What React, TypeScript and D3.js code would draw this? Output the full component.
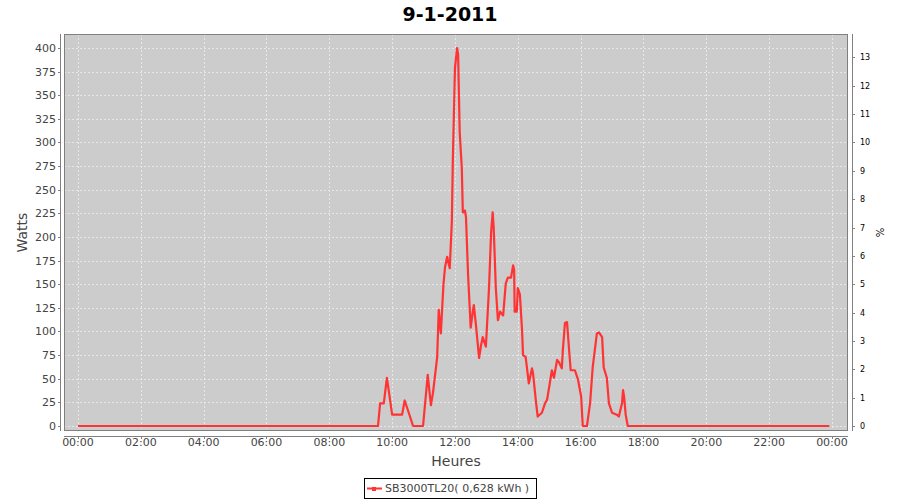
import React from "react";
import * as d3 from "d3";

const chartTitle = "9-1-2011";
const seriesName = "SB3000TL20( 0,628 kWh )";
const yLabelLeft = "Watts";
const yLabelRight = "%";
const xLabel = "Heures";
const nominalPower = 3000;

const times = ["00:00","09:33","09:37","09:44","09:50","10:00","10:19","10:24","10:40","10:59","11:08","11:14","11:18","11:26","11:29","11:33","11:38","11:41","11:45","11:50","11:54","11:56","12:00","12:04","12:06","12:09","12:13","12:15","12:19","12:21","12:25","12:30","12:34","12:36","12:40","12:46","12:50","12:53","12:59","13:05","13:09","13:12","13:14","13:18","13:22","13:26","13:32","13:37","13:41","13:47","13:51","13:53","13:54","13:58","14:00","14:04","14:08","14:10","14:15","14:21","14:27","14:29","14:35","14:38","14:46","14:52","14:56","15:01","15:05","15:09","15:15","15:19","15:24","15:26","15:30","15:34","15:38","15:41","15:49","15:55","16:01","16:04","16:12","16:18","16:23","16:31","16:35","16:41","16:44","16:50","16:54","17:00","17:09","17:13","17:19","17:21","17:23","17:26","17:30","23:55"];
const watts = [0,0,24,24,51,12,12,27,0,0,54,22,35,73,123,98,150,168,179,167,216,284,379,400,393,311,273,226,228,221,160,104,121,128,107,72,86,94,84,146,205,226,209,146,112,121,117,151,157,157,170,165,121,121,146,139,102,75,73,45,61,56,24,10,14,24,28,45,59,51,70,67,61,80,109,110,80,59,59,49,31,0,0,24,62,98,99,94,62,51,24,14,12,10,24,38,31,12,0,0];

const xTickLabels = ["00:00","02:00","04:00","06:00","08:00","10:00","12:00","14:00","16:00","18:00","20:00","22:00","00:00"];
const leftTicks = [0,25,50,75,100,125,150,175,200,225,250,275,300,325,350,375,400];
const rightTicks = [0,1,2,3,4,5,6,7,8,9,10,11,12,13];

const FONT = "'DejaVu Sans', sans-serif";

function toMin(t: string) {
  const [h, m] = t.split(":").map(Number);
  return h * 60 + m;
}

export default function App() {
  const W = 900, H = 500;
  const pl = 64, pr = 848, pt = 34, pb = 431;

  const x = d3.scaleLinear().domain([-26.7, 1470.6]).range([pl, pr]);
  const y = d3.scaleLinear().domain([-5.29, 414.8]).range([pb, pt]);
  const yR = d3.scaleLinear().domain([-5.29 / nominalPower * 100, 414.8 / nominalPower * 100]).range([pb, pt]);

  const data = times.map((t, i) => ({ m: toMin(t), w: watts[i] }));
  const line = d3.line<{ m: number; w: number }>().x(d => x(d.m)).y(d => y(d.w));

  const xTickVals = xTickLabels.map((_, i) => i * 120);
  const axisColor = "#808080";
  const labelColor = "#444444";
  const gridColor = "#eeeeee";

  const leftAxisX = pl - 4;
  const rightAxisX = pr + 4;
  const bottomAxisY = pb + 5;

  return (
    <svg width={W} height={H} style={{ position: "absolute", left: 0, top: 0, background: "#fff" }}>
      <defs>
        <clipPath id="plotclip">
          <rect x={pl} y={pt} width={pr - pl} height={pb - pt} />
        </clipPath>
      </defs>
      <text x={450} y={21} textAnchor="middle" fontFamily={FONT} fontWeight="bold" fontSize={19} fill="#000">{chartTitle}</text>

      <rect x={pl} y={pt} width={pr - pl} height={pb - pt} fill="#cccccc" />
      {leftTicks.map(v => (
        <line key={"gy" + v} x1={pl} x2={pr} y1={Math.round(y(v)) + 0.5} y2={Math.round(y(v)) + 0.5} stroke={gridColor} strokeWidth={0.8} strokeDasharray="2,2" />
      ))}
      {xTickVals.map((v, i) => (
        <line key={"gx" + i} y1={pt} y2={pb} x1={Math.round(x(v)) + 0.5} x2={Math.round(x(v)) + 0.5} stroke={gridColor} strokeWidth={0.8} strokeDasharray="2,2" />
      ))}

      <g clipPath="url(#plotclip)">
        <path d={line(data) || ""} fill="none" stroke="#ff3333" strokeWidth={2.2} strokeLinejoin="round" />
      </g>
      <rect x={pl + 0.5} y={pt + 0.5} width={pr - pl - 1} height={pb - pt - 1} fill="none" stroke={axisColor} strokeWidth={1} />

      {/* left axis */}
      <line x1={leftAxisX + 0.5} x2={leftAxisX + 0.5} y1={pt} y2={pb} stroke={axisColor} />
      {leftTicks.map(v => (
        <g key={"lt" + v}>
          <line x1={leftAxisX - 2} x2={leftAxisX} y1={Math.round(y(v)) + 0.5} y2={Math.round(y(v)) + 0.5} stroke={axisColor} />
          <text x={leftAxisX - 4} y={y(v) + 4} textAnchor="end" fontFamily={FONT} fontSize={11} fill={labelColor}>{v}</text>
        </g>
      ))}
      <text transform={`translate(27,${(pt + pb) / 2}) rotate(-90)`} textAnchor="middle" fontFamily={FONT} fontSize={14} fill={labelColor}>{yLabelLeft}</text>

      {/* right axis */}
      <line x1={rightAxisX + 0.5} x2={rightAxisX + 0.5} y1={pt} y2={pb} stroke={axisColor} />
      {rightTicks.map(v => (
        <g key={"rt" + v}>
          <line x1={rightAxisX} x2={rightAxisX + 3} y1={Math.round(yR(v)) + 0.5} y2={Math.round(yR(v)) + 0.5} stroke={axisColor} />
          <text x={rightAxisX + 8} y={yR(v) + 3} textAnchor="start" fontFamily={FONT} fontSize={8} fill="#000">{v}</text>
        </g>
      ))}
      <text transform={`translate(876,${(pt + pb) / 2}) rotate(90)`} textAnchor="middle" fontFamily={FONT} fontSize={10} fill="#000">{yLabelRight}</text>

      {/* bottom axis */}
      <line x1={pl} x2={pr} y1={bottomAxisY + 0.5} y2={bottomAxisY + 0.5} stroke={axisColor} />
      {xTickVals.map((v, i) => (
        <g key={"xt" + i}>
          <line x1={Math.round(x(v)) + 0.5} x2={Math.round(x(v)) + 0.5} y1={bottomAxisY} y2={bottomAxisY + 3} stroke={axisColor} />
          <text x={x(v)} y={bottomAxisY + 10} textAnchor="middle" fontFamily={FONT} fontSize={11} fill={labelColor}>{xTickLabels[i]}</text>
        </g>
      ))}
      <text x={(pl + pr) / 2} y={466} textAnchor="middle" fontFamily={FONT} fontSize={14} fill={labelColor}>{xLabel}</text>

      {/* legend */}
      <rect x={364.5} y={478.5} width={172} height={20} fill="#fff" stroke="#000" strokeWidth={1} />
      <line x1={367} x2={382} y1={488.5} y2={488.5} stroke="#ff3333" strokeWidth={2} />
      <rect x={372} y={487} width={4} height={4} fill="#ff3333" />
      <text x={385} y={492} fontFamily={FONT} fontSize={11} fill={labelColor}>{seriesName}</text>
    </svg>
  );
}
